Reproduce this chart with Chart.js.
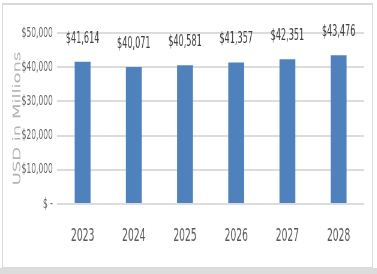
<!DOCTYPE html>
<html>
<head>
<meta charset="utf-8">
<script src="https://cdn.jsdelivr.net/npm/chart.js@4"></script>
<style>
  body { margin: 0; background: #fff; overflow: hidden; }
  #wrap { position: relative; width: 377px; height: 274px; overflow: hidden; }
  /* the source picture is squeezed sideways, so the canvas is drawn wide and scaled down */
  #myChart { position: absolute; left: 0; top: 0; transform: scaleX(0.6); transform-origin: 0 0; }
  #frame { position: absolute; left: 2px; top: 3px; width: 371px; height: 265px; box-sizing: border-box;
           border: 1px solid #d9d9d9; border-top-width: 2px; }
  #shadow { position: absolute; left: 0; top: 268px; width: 377px; height: 6px; background: #dcdcdc; }
</style>
</head>
<body>
<div id="wrap">
  <canvas id="myChart" width="628" height="274"></canvas>
  <div id="frame"></div>
  <div id="shadow"></div>
</div>
<script>
const years = ['2023', '2024', '2025', '2026', '2027', '2028'];
const usdMillions = [41614, 40071, 40581, 41357, 42351, 43476];
const yMin = 0;
const yMax = 50000;
const yStep = 10000;

const narrow = "'Liberation Sans Narrow', 'DejaVu Sans Condensed', Arial, sans-serif";

function money(v) {
    return v === 0 ? '$ -' : '$' + v.toLocaleString('en-US');
}

// value labels above each bar
const barLabels = {
    id: 'barLabels',
    afterDatasetsDraw(chart) {
        const c = chart.ctx;
        const meta = chart.getDatasetMeta(0);
        c.save();
        c.font = '15px ' + narrow;
        c.fillStyle = '#404040';
        c.textAlign = 'center';
        c.textBaseline = 'middle';
        meta.data.forEach((bar, i) => {
            c.fillText(money(usdMillions[i]), bar.x, bar.y - 23);
        });
        c.restore();
    }
};

const ctx = document.getElementById('myChart').getContext('2d');
const myChart = new Chart(ctx, {
    type: 'bar',
    data: {
        labels: years,
        datasets: [{
            data: usdMillions,
            backgroundColor: '#4f81bd',
            barPercentage: 0.31,
            categoryPercentage: 1
        }]
    },
    options: {
        responsive: false,
        animation: false,
        layout: { padding: { top: 33, right: 21, bottom: 0, left: 0 } },
        plugins: { legend: { display: false }, tooltip: { enabled: false } },
        scales: {
            x: {
                grid: { display: false, drawTicks: false },
                border: { display: false },
                ticks: { color: '#595959', font: { family: narrow, size: 17 }, padding: 22, maxRotation: 0 },
                afterFit(scale) { scale.height = 70; }
            },
            y: {
                min: yMin,
                max: yMax,
                grid: { color: '#dcdcdc', lineWidth: 2, drawTicks: false },
                border: { display: false },
                ticks: {
                    stepSize: yStep,
                    color: '#666666',
                    font: { family: narrow, size: 14 },
                    padding: 7,
                    callback: (v) => money(v)
                },
                title: {
                    display: true,
                    text: 'USD in Millions',
                    color: '#b3b3b3',
                    font: { family: "'DejaVu Sans', sans-serif", size: 18 },
                    padding: { top: 19, bottom: 0 }
                },
                afterFit(scale) { scale.width = 95; }
            }
        }
    },
    plugins: [barLabels]
});
</script>
</body>
</html>
